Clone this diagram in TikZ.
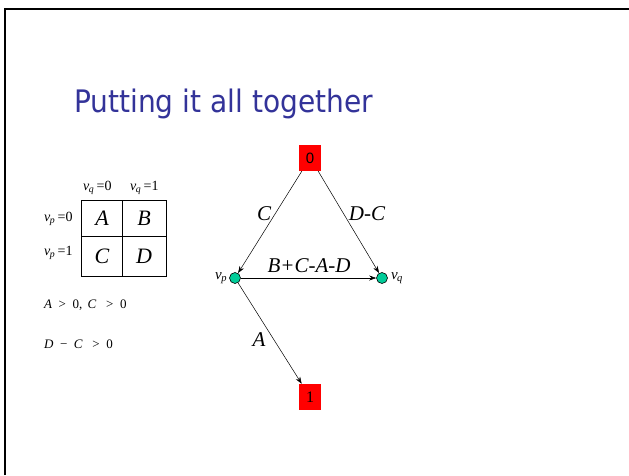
\documentclass[tikz,border=0pt]{standalone}
\usepackage{fontspec}
\setmainfont{Liberation Serif}
\newfontfamily\titlefont{DejaVu Sans}
\newfontfamily\arialfont{Liberation Sans}
\usetikzlibrary{arrows.meta}
\definecolor{titleblue}{RGB}{51,51,153}
\definecolor{nodered}{RGB}{255,0,0}
\definecolor{vteal}{RGB}{0,204,153}
\newcommand\myv[1]{\textit{v}\textsubscript{\kern-0.5pt\textit{#1}}}
\begin{document}
\begin{tikzpicture}[x=1pt,y=-1pt,
  term/.style={fill=nodered,minimum width=22pt,minimum height=26pt,inner sep=0pt},
  vert/.style={circle,draw=black,fill=vteal,minimum size=11pt,inner sep=0pt,line width=0.6pt},
  edge/.style={-{Stealth[length=7pt,width=5pt]},line width=0.5pt},
  elab/.style={font=\fontsize{21}{21}\selectfont\itshape},
  cell/.style={font=\fontsize{22}{22}\selectfont\itshape},
  hdr/.style={font=\fontsize{14}{14}\selectfont},
  cond/.style={anchor=base west,inner sep=0pt,font=\fontsize{13}{13}\selectfont}]
\useasboundingbox (0,0) rectangle (629,475);
\fill[white] (0,0) rectangle (629,475);
% slide frame
\draw[line width=2.5pt] (5,475) -- (5,9) -- (629,9);
% title
\node[anchor=base west,inner sep=0pt,text=titleblue,font=\titlefont\fontsize{31}{31}\selectfont,xscale=0.905] (title) at (74,112) {Putting it all together};
% table
\draw[line width=0.8pt] (81,200) rectangle (166,276);
\draw[line width=0.8pt] (122,200) -- (122,276);
\draw[line width=0.8pt] (81,236) -- (166,236);
\node[cell] (cA) at (102,218) {A};
\node[cell] (cB) at (144,218) {B};
\node[cell] (cC) at (102,256) {C};
\node[cell] (cD) at (144,256) {D};
\node[hdr,anchor=west,inner sep=0pt] (hq0) at (83,188) {\myv{q}\,=0};
\node[hdr,anchor=west,inner sep=0pt] (hq1) at (130,188) {\myv{q}\,=1};
\node[hdr,anchor=west,inner sep=0pt] (hp0) at (44,219) {\myv{p}\,=0};
\node[hdr,anchor=west,inner sep=0pt] (hp1) at (44,253) {\myv{p}\,=1};
% conditions
\node[cond] (cond1) at (44,308) {\textit{A}\ \ {>}\ \ 0,\ \,\textit{C}\ \ \ {>}\ \ 0};
\node[cond] (cond2) at (44,348) {\textit{D}\ \ −\ \ \textit{C}\ \ \ {>}\ \ 0};
% graph
\node[term,font=\arialfont\fontsize{15}{15}\selectfont] (n0) at (310,158) {0};
\node[term,font=\fontsize{16}{16}\selectfont] (n1) at (310,397) {1};
\node[vert] (vp) at (235,278) {};
\node[vert] (vq) at (382,278) {};
\node[anchor=east,inner sep=2pt,font=\fontsize{15}{15}\selectfont] (lvp) at (vp.west) {\myv{p}};
\node[anchor=west,inner sep=3pt,font=\fontsize{15}{15}\selectfont] (lvq) at (vq.east) {\myv{q}};
\draw[edge] (n0.south west) ++(3,0) coordinate (s0l) (s0l) -- (vp);
\draw[edge] (n0.south east) ++(-3,0) coordinate (s0r) (s0r) -- (vq);
\draw[edge] (vp) -- (vq);
\draw[edge] (vp) -- (n1);
\node[elab] (lC) at (264,214) {C};
\node[elab] (lDC) at (367,214) {D-C};
\node[elab] (lBCAD) at (309,266) {B+C-A-D};
\node[elab] (lA) at (259,340) {A};
\end{tikzpicture}
\end{document}
